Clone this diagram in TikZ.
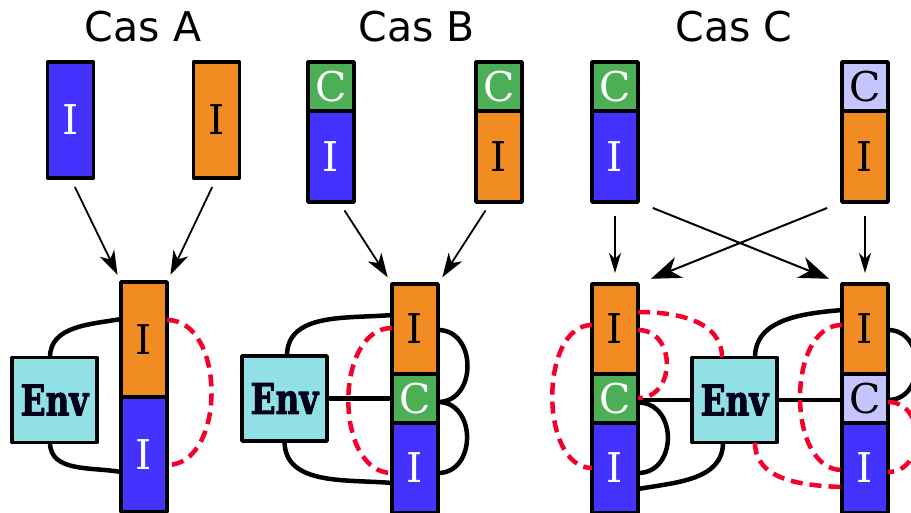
\documentclass[tikz,border=0pt]{standalone}
\usepackage{fontspec}
\usepackage{graphicx}
\usepackage{tikz}
\usetikzlibrary{arrows.meta, positioning}

\newfontfamily\titlefont{DejaVu Sans}
\newfontfamily\segfont{DejaVu Serif}
\newfontfamily\envfont{DejaVu Serif}[BoldFeatures={FakeBold=2.5}]
\newcommand{\envtext}{\scalebox{0.78}[1]{Env}}

\definecolor{segblue}{HTML}{4433FF}
\definecolor{segorange}{HTML}{F08C22}
\definecolor{seggreen}{HTML}{4CAF55}
\definecolor{seglav}{HTML}{C4C4FF}
\definecolor{envcyan}{HTML}{90E0E6}
\definecolor{linkred}{HTML}{F5002A}

\begin{document}
\begin{tikzpicture}[
	x=1pt, y=-1pt,
	seg/.style={rectangle, draw, line width=3.5pt, line join=round, outer sep=0pt, inner sep=0pt,
		minimum width=46pt, font=\segfont\fontsize{41}{48}\selectfont},
	iblue/.style={seg, fill=segblue, text=white},
	iorange/.style={seg, fill=segorange},
	cgreen/.style={seg, fill=seggreen, text=white},
	clav/.style={seg, fill=seglav},
	env/.style={rectangle, draw, line width=3.5pt, line join=round, fill=envcyan, outer sep=0pt, inner sep=0pt,
		minimum width=85pt, minimum height=85pt, font=\envfont\bfseries\fontsize{42}{50}\selectfont,
		text=black!90!blue},
	title/.style={anchor=base, font=\titlefont\fontsize{41}{49}\selectfont},
	link/.style={draw, line width=4.5pt},
	redlink/.style={draw, line width=4.5pt, linkred, dash pattern=on 12pt off 7pt},
	line/.style={draw, line width=1.8pt, -{Stealth[length=24pt, width=16pt, inset=7pt]},
		shorten <=10pt, shorten >=8pt},
	thinline/.style={draw, line width=1.3pt, -{Stealth[length=20pt, width=12pt, inset=6pt]},
		shorten <=14pt, shorten >=11pt},
	bigline/.style={draw, line width=2pt, -{Stealth[length=30pt, width=22pt, inset=9pt]},
		shorten <=16pt, shorten >=14pt},
	]
	\useasboundingbox (0,0) rectangle (911,513);

	% Cas A
	\node [title] (titleA) at (143,42) {Cas A};
	\node [iblue, minimum height=116pt, anchor=north] (a1) at (70.5,62) {I};
	\node [iorange, minimum height=116pt, anchor=north] (a2) at (216.5,62) {I};
	\node [iorange, minimum height=115pt, anchor=north] (aO) at (144,282) {I};
	\node [iblue, minimum height=115pt, below=0pt of aO] (aB) {I};
	\node [env] (aEnv) at (54.5,400) {\envtext};
	\path [line] (a1.south) -- (aO.north west);
	\path [line] (a2.south) -- (aO.north east);
	\path [link] ([xshift=-4.5pt]aEnv.north) to[out=90, in=190] ([yshift=20.5pt]aO.west);
	\path [link] ([xshift=-4.5pt]aEnv.south) to[out=-90, in=170] ([yshift=-17.5pt]aB.west);
	\path [redlink] ([yshift=19.5pt]aO.east) to[out=0, in=0, looseness=1.05] ([yshift=-10.5pt]aB.east);

	% Cas B
	\node [title] (titleB) at (417,42) {Cas B};
	\node [cgreen, minimum height=49pt, anchor=north] (b1C) at (331,62) {C};
	\node [iblue, minimum height=91pt, below=0pt of b1C] (b1I) {I};
	\node [cgreen, minimum height=49pt, anchor=north] (b2C) at (499,62) {C};
	\node [iorange, minimum height=91pt, below=0pt of b2C] (b2I) {I};
	\node [iorange, minimum height=90pt, anchor=north] (bO) at (415,284) {I};
	\node [cgreen, minimum height=49pt, below=0pt of bO] (bC) {C};
	\node [iblue, minimum height=90pt, below=0pt of bC] (bB) {I};
	\node [env] (bEnv) at (284.5,398.5) {\envtext};
	\path [line] (b1I.-80) -- (bO.north west);
	\path [line] (b2I.-100) -- (bO.north east);
	\path [link] ([xshift=2.5pt]bEnv.north) to[out=90, in=185] ([yshift=14pt]bO.west);
	\path [link] (bEnv.south) to[out=-90, in=175] ([yshift=-15pt]bB.west);
	\path [link] (bEnv.east) -- (bC.west);
	\path [link] ([yshift=-1pt]bO.east) to[out=0, in=0, looseness=1.4] ([yshift=-3.5pt]bC.east);
	\path [link] ([yshift=-3.5pt]bC.east) to[out=0, in=0, looseness=1.4] ([yshift=-5pt]bB.east);
	\path [redlink] ([yshift=1pt]bO.west) to[out=180, in=180, looseness=1.03] ([yshift=-5pt]bB.west);

	% Cas C
	\node [title] (titleC) at (734,42) {Cas C};
	\node [cgreen, minimum height=49pt, anchor=north] (c1C) at (615,62) {C};
	\node [iblue, minimum height=91pt, below=0pt of c1C] (c1I) {I};
	\node [clav, minimum height=49pt, anchor=north] (c2C) at (865,62) {C};
	\node [iorange, minimum height=91pt, below=0pt of c2C] (c2I) {I};
	\node [iorange, minimum height=90pt, anchor=north] (cLO) at (615,284) {I};
	\node [cgreen, minimum height=49pt, below=0pt of cLO] (cLC) {C};
	\node [iblue, minimum height=90pt, below=0pt of cLC] (cLB) {I};
	\node [iorange, minimum height=90pt, anchor=north] (cRO) at (865,284) {I};
	\node [clav, minimum height=49pt, below=0pt of cRO] (cRC) {C};
	\node [iblue, minimum height=90pt, below=0pt of cRC] (cRB) {I};
	\node [env] (cEnv) at (734.5,400) {\envtext};
	\path [thinline] (c1I) -- (cLO);
	\path [thinline] (c2I) -- (cRO);
	\path [bigline] (c1I.south east) -- (cRO.north west);
	\path [bigline] (c2I.south west) -- (cLO.north east);
	\path [link] (cLC.east |- cEnv.west) -- (cEnv.west);
	\path [link] (cEnv.east) -- (cEnv.east -| cRC.west);
	\path [link] ([yshift=-4pt]cLC.east) to[out=0, in=0, looseness=1.45] ([yshift=-5pt]cLB.east);
	\path [link] ([xshift=-11.5pt]cEnv.south) to[out=-90, in=10] ([yshift=-21pt]cLB.east);
	\path [link] ([xshift=20.5pt]cEnv.north) to[out=90, in=185] ([yshift=19pt]cRO.west);
	\path [link] ([yshift=-1pt]cRO.east) to[out=0, in=0, looseness=1.4] ([yshift=-1.5pt]cRC.east);
	\path [redlink] ([yshift=17pt]cLO.east) to[out=0, in=90] ([xshift=-12.5pt]cEnv.north);
	\path [redlink] ([yshift=-1pt]cLO.east) to[out=0, in=0, looseness=1.45] ([yshift=0.5pt]cLC.east);
	\path [redlink] ([yshift=4pt]cLO.west) to[out=180, in=180, looseness=0.95] (cLB.west);
	\path [redlink] ([xshift=20.5pt]cEnv.south) to[out=-90, in=178] ([yshift=-19pt]cRB.west);
	\path [redlink] ([yshift=4pt]cRO.west) to[out=180, in=180, looseness=0.99] ([yshift=-2pt]cRB.west);
	\path [redlink] ([yshift=-3.5pt]cRC.east) to[out=0, in=0, looseness=1.4] ([yshift=-4pt]cRB.east);
\end{tikzpicture}
\end{document}
